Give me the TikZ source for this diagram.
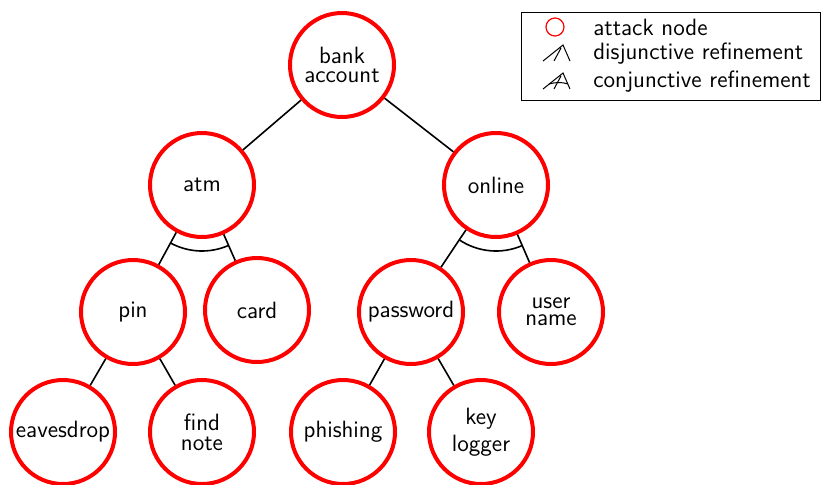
\documentclass[tikz,border=0pt]{standalone}
\usepackage{tikz}
\usetikzlibrary{calc}
\newcommand\treefont{\sffamily\fontsize{11.8}{0pt}\selectfont\setlength\lineskip{3pt}}

\begin{document}
\begin{tikzpicture}[x=0.5pt, y=-0.5pt,
    every node/.style={font=\treefont},
    attack/.style={draw=red, line width=2pt, circle, minimum size=52pt, inner sep=0pt, align=center},
    edge/.style={line width=0.8pt}]
    \useasboundingbox (0,0) rectangle (821,484);
    % the tree
    \node[attack] (bank) at (342,65) {bank\\account};
    \node[attack] (atm) at (202,185) {atm};
    \node[attack] (online) at (496,185) {online};
    \node[attack] (pin) at (133,312) {pin};
    \node[attack] (card) at (257,310) {card};
    \node[attack] (password) at (411,312) {password};
    \node[attack] (user) at (551,312) {user\\name};
    \node[attack] (eaves) at (63,432) {eavesdrop};
    \node[attack] (note) at (202,432) {find\\note};
    \node[attack] (phish) at (343,432) {phishing};
    \node[attack] (keylog) at (481,432) {key\\logger};
    \draw[edge] (bank) -- (atm);
    \draw[edge] (bank) -- (online);
    \draw[edge] (atm) -- (pin);
    \draw[edge] (atm) -- (card);
    \draw[edge] (online) -- (password);
    \draw[edge] (online) -- (user);
    \draw[edge] (pin) -- (eaves);
    \draw[edge] (pin) -- (note);
    \draw[edge] (password) -- (phish);
    \draw[edge] (password) -- (keylog);
    % conjunctive arcs
    \draw[edge] let \p1=($(pin)-(atm)$), \p2=($(card)-(atm)$),
        \n1={atan2(\y1,\x1)}, \n2={atan2(\y2,\x2)} in
        ($(atm)+(\n1:33pt)$) arc[start angle=\n1, end angle=\n2, radius=33pt];
    \draw[edge] let \p1=($(password)-(online)$), \p2=($(user)-(online)$),
        \n1={atan2(\y1,\x1)}, \n2={atan2(\y2,\x2)} in
        ($(online)+(\n1:33pt)$) arc[start angle=\n1, end angle=\n2, radius=33pt];
    % legend
    \draw[line width=0.5pt] (521,12) rectangle (820,100);
    \node[draw=red, line width=0.6pt, circle, minimum size=9pt, inner sep=0pt] (legatt) at (555,27) {};
    \node[anchor=west, inner sep=0pt] (legatttxt) at (593,27) {attack node};
    \draw[line width=0.5pt] (543,61) -- (563,45) -- (570,61) (554,61) -- (561,48);
    \node[anchor=west, inner sep=0pt] (legdistxt) at (593,54) {disjunctive refinement};
    \draw[line width=0.5pt] (543,89) -- (563,73) -- (570,89) (554,89) -- (561,76);
    \draw[line width=0.5pt] (549,84) .. controls (556,82) and (562,82) .. (568,84);
    \node[anchor=west, inner sep=0pt] (legcontxt) at (593,82) {conjunctive refinement};
\end{tikzpicture}
\end{document}
